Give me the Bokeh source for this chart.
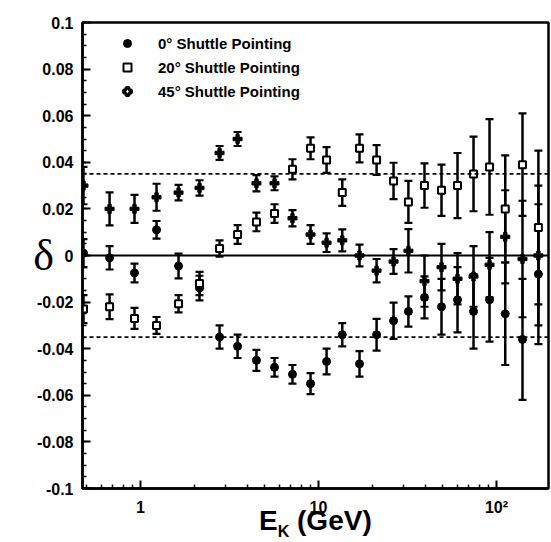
import numpy as np
from bokeh.plotting import figure
from bokeh.layouts import column
from bokeh.models import (ColumnDataSource, Whisker, TeeHead, Span, Legend, LegendItem,
                          FixedTicker, CustomJSTickFormatter, Range1d, Div)
from bokeh.embed import file_html
from bokeh.resources import INLINE

# ---- data ----
energy = [0.478, 0.670, 0.925, 1.23, 1.635, 2.145, 2.78, 3.51, 4.48, 5.66, 7.14, 9.02, 11.1,
          13.6, 17.0, 21.2, 26.4, 32.0, 39.4, 49.1, 60.4, 74.3, 91.4, 112.0, 140.0, 172.0]

delta_0 = [0.001, -0.001, -0.0075, 0.011, -0.0045, -0.014, -0.035, -0.039, -0.045, -0.048,
           -0.051, -0.055, -0.0455, -0.034, -0.0465, -0.034, -0.028, -0.024, -0.018, -0.022,
           -0.019, -0.024, -0.019, -0.025, -0.036, -0.008]
err_0 = [0.006, 0.005, 0.004, 0.0038, 0.0053, 0.0053, 0.005, 0.005, 0.0045, 0.004, 0.004,
         0.0045, 0.0055, 0.005, 0.0055, 0.0068, 0.0078, 0.0065, 0.009, 0.012, 0.014, 0.016,
         0.018, 0.022, 0.026, 0.03]

delta_20 = [-0.023, -0.022, -0.027, -0.030, -0.0207, -0.012, 0.003, 0.009, 0.0144, 0.018,
            0.037, 0.046, 0.041, 0.027, 0.046, 0.041, 0.032, 0.023, 0.030, 0.028, 0.030,
            0.035, 0.038, 0.020, 0.039, 0.012]
err_20 = [0.006, 0.0053, 0.0045, 0.0036, 0.0037, 0.005, 0.0035, 0.004, 0.004, 0.004, 0.0043,
          0.0047, 0.0055, 0.0057, 0.006, 0.0064, 0.0078, 0.009, 0.0095, 0.011, 0.014, 0.016,
          0.0205, 0.023, 0.022, 0.033]

delta_45 = [0.030, 0.020, 0.020, 0.025, 0.027, 0.029, 0.044, 0.050, 0.031, 0.031, 0.016,
            0.009, 0.0055, 0.0065, 0.000, -0.0065, -0.0026, 0.002, -0.011, -0.005, -0.010,
            -0.009, -0.004, 0.008, -0.0015, 0.000]
err_45 = [0.008, 0.0071, 0.006, 0.0058, 0.0033, 0.0033, 0.003, 0.003, 0.0035, 0.003, 0.0035,
          0.004, 0.004, 0.0047, 0.0047, 0.005, 0.0053, 0.0093, 0.011, 0.010, 0.011, 0.013,
          0.014, 0.02, 0.025, 0.03]

series_labels = ["0° Shuttle Pointing", "20° Shuttle Pointing", "45° Shuttle Pointing"]
y_ticks = [-0.1, -0.08, -0.06, -0.04, -0.02, 0.0, 0.02, 0.04, 0.06, 0.08, 0.1]
x_ticks = [1, 10, 100]
x_tick_labels = ["1", "10", "10²"]
band = 0.035

FONT = "Liberation Sans"

p = figure(width=551, height=518, x_axis_type="log", output_backend="svg",
           toolbar_location=None, x_range=Range1d(0.472, 196), y_range=Range1d(-0.1, 0.1),
           min_border_left=82, min_border_right=3, min_border_top=22, min_border_bottom=30)
p.grid.visible = False
p.outline_line_color = "black"
p.outline_line_width = 2.5

# reference lines
p.add_layout(Span(location=0, dimension="width", line_color="black", line_width=2))
for loc in (band, -band):
    p.add_layout(Span(location=loc, dimension="width", line_color="black",
                      line_width=1.8, line_dash="4 3"))

def add_series(vals, errs, marker, size, fill, lw):
    v = np.array(vals); e = np.array(errs)
    src = ColumnDataSource(dict(x=energy, y=vals, up=list(v + e), lo=list(v - e)))
    p.add_layout(Whisker(source=src, base="x", upper="up", lower="lo", line_width=2.5,
                         line_color="black",
                         upper_head=TeeHead(size=8, line_width=2.2, line_color="black"),
                         lower_head=TeeHead(size=8, line_width=2.2, line_color="black")))
    p.scatter("x", "y", source=src, marker=marker, size=size, fill_color=fill,
              line_color="black", line_width=lw)

add_series(delta_0, err_0, "circle", 8, "black", 1)
add_series(delta_20, err_20, "square", 7, "white", 2)
add_series(delta_45, err_45, "plus", 9, "black", 1)

# legend proxies (bigger symbols, no visible point)
nan = np.array([np.nan])
r0 = p.scatter(nan, nan, marker="circle", size=14, fill_color="black", line_color="black")
r1 = p.scatter(nan, nan, marker="square", size=13, fill_color="white", line_color="black", line_width=2)
r2 = p.scatter(nan, nan, marker="plus", size=17, fill_color="white", line_color="black", line_width=2.8)
leg = Legend(items=[LegendItem(label=series_labels[0], renderers=[r0]),
                    LegendItem(label=series_labels[1], renderers=[r1]),
                    LegendItem(label=series_labels[2], renderers=[r2])],
             location=(35, 387), padding=0, margin=0, spacing=4,
             glyph_width=20, glyph_height=20, label_height=20, label_standoff=21,
             background_fill_alpha=0, border_line_alpha=0, label_text_color="black",
             label_text_font=FONT, label_text_font_style="bold", label_text_font_size="15px")
p.add_layout(leg)

# axes
ya = p.yaxis[0]
ya.ticker = FixedTicker(ticks=y_ticks, minor_ticks=list(np.round(np.arange(-0.1, 0.1001, 0.005), 3)))
ya.formatter = CustomJSTickFormatter(code="""
  let s = tick.toFixed(2);
  if (s.indexOf('.') >= 0) { s = s.replace(/0+$/, '').replace(/\\.$/, ''); }
  if (s == '-0') s = '0';
  return s;""")
xa = p.xaxis[0]
minor = [m * 10.0 ** d for d in (-1, 0, 1, 2) for m in range(2, 10)]
xa.ticker = FixedTicker(ticks=x_ticks, minor_ticks=minor)
xa.major_label_overrides = {t: l for t, l in zip(x_ticks, x_tick_labels)}
for ax in (xa, ya):
    ax.axis_line_width = 2.5
    ax.major_tick_in = 8
    ax.major_tick_out = 0
    ax.minor_tick_in = 4
    ax.minor_tick_out = 0
    ax.major_tick_line_width = 2
    ax.minor_tick_line_width = 1.5
    ax.major_label_text_font = FONT
    ax.major_label_text_font_style = "bold"
    ax.major_label_text_font_size = "16px"
    ax.major_label_text_color = "black"
ya.major_label_standoff = 9
xa.major_label_standoff = 10

ya.axis_label = "δ"
ya.axis_label_orientation = "horizontal"
ya.axis_label_text_font = "Liberation Serif"
ya.axis_label_text_font_style = "normal"
ya.axis_label_text_font_size = "44px"
ya.axis_label_text_color = "black"
ya.axis_label_standoff = -20

title = Div(text=('<div style="position:relative; left:259px; top:-11px; '
                  'font-family:\'Liberation Sans\', Arial, sans-serif; font-weight:bold; '
                  'font-size:28px; line-height:28px; color:black; white-space:nowrap;">'
                  'E<span style="font-size:16px; position:relative; top:7px;">K</span>'
                  ' (GeV)</div>'),
            width=551, height=24, margin=0)

layout = column(p, title, spacing=0)
open("out.html", "w").write(file_html(layout, INLINE))
